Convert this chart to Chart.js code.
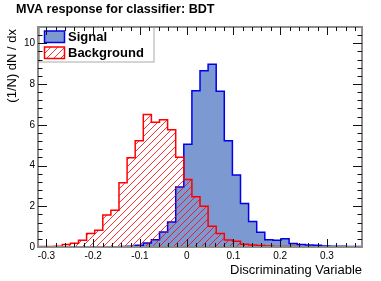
<!DOCTYPE html>
<html>
<head>
<meta charset="utf-8">
<script src="https://cdn.jsdelivr.net/npm/chart.js@4.4.0/dist/chart.umd.min.js"></script>
<style>
  html, body { margin: 0; padding: 0; background: #fff; }
</style>
</head>
<body>
<canvas id="mva" width="381" height="281"></canvas>
<script>
// histogram binning (TMVA response, 40 bins)
const xMin = -0.318;
const xMax = 0.375;
const nBins = 40;
const yMax = 10.8;

// normalised bin contents
const signal = [
  0, 0, 0, 0, 0, 0, 0, 0, 0, 0.01,
  0.02, 0.04, 0.08, 0.20, 0.36, 0.74, 1.23, 2.95, 5.05, 7.67,
  8.65, 8.97, 7.65, 5.21, 3.54, 2.14, 1.25, 0.72, 0.36, 0.33,
  0.41, 0.17, 0.12, 0.10, 0.08, 0.05, 0.04, 0.04, 0.03, 0.02
];
const background = [
  0.03, 0.03, 0.04, 0.12, 0.18, 0.33, 0.66, 0.82, 1.57, 1.80,
  3.15, 4.38, 5.21, 6.50, 6.12, 6.25, 5.75, 4.40, 3.31, 2.47,
  2.00, 1.02, 0.66, 0.34, 0.28, 0.14, 0.10, 0.07, 0.05, 0.03,
  0.02, 0.02, 0.01, 0.01, 0.01, 0.01, 0.01, 0.01, 0.01, 0.01
];

const xTicks = [-0.3, -0.2, -0.1, 0, 0.1, 0.2, 0.3];
const yTicks = [0, 2, 4, 6, 8, 10];
const legendLabels = ["Signal", "Background"];

const FONT = '"Liberation Sans", Arial, Helvetica, sans-serif';
const sigFill = "rgb(125, 153, 209)";
const sigLine = "rgb(0, 0, 238)";
const bkgLine = "rgb(255, 0, 0)";

// bin edges -> points for a stepped outline
function steps(values) {
  const w = (xMax - xMin) / nBins;
  const pts = values.map((v, i) => ({ x: xMin + i * w, y: v }));
  pts.push({ x: xMax, y: values[values.length - 1] });
  return pts;
}

function hatch(ctx) {
  const s = 7;
  const c = document.createElement("canvas");
  c.width = s;
  c.height = s;
  const g = c.getContext("2d");
  g.strokeStyle = "rgba(255, 0, 0, 0.8)";
  g.lineWidth = 1;
  g.beginPath();
  g.moveTo(0, s); g.lineTo(s, 0);
  g.moveTo(-1, 1); g.lineTo(1, -1);
  g.moveTo(s - 1, s + 1); g.lineTo(s + 1, s - 1);
  g.stroke();
  return ctx.createPattern(c, "repeat");
}

const canvas = document.getElementById("mva");
const hatchFill = hatch(canvas.getContext("2d"));

// ROOT-ish frame: legend, inward ticks on all sides, titles
const rootFrame = {
  id: "rootFrame",
  afterDraw(chart) {
    const ctx = chart.ctx;
    const a = chart.chartArea;
    const xs = chart.scales.x, ys = chart.scales.y;
    ctx.save();

    // legend
    ctx.fillStyle = "#fff";
    ctx.fillRect(39.5, 27.5, 114.5, 34.5);
    ctx.strokeStyle = "#aaa";
    ctx.lineWidth = 1;
    ctx.strokeRect(39.5, 27.5, 114.5, 34.5);
    ctx.fillStyle = sigFill;
    ctx.fillRect(44.5, 31, 20, 11.5);
    ctx.strokeStyle = sigLine;
    ctx.lineWidth = 1.5;
    ctx.strokeRect(44.5, 31, 20, 11.5);
    ctx.fillStyle = hatchFill;
    ctx.fillRect(44.5, 47, 20, 11.5);
    ctx.strokeStyle = bkgLine;
    ctx.strokeRect(44.5, 47, 20, 11.5);
    ctx.fillStyle = "#000";
    ctx.font = "bold 13px " + FONT;
    ctx.textAlign = "left";
    ctx.textBaseline = "middle";
    ctx.fillText(legendLabels[0], 68, 37);
    ctx.fillText(legendLabels[1], 68, 53);

    // frame
    ctx.strokeStyle = "#8c8c8c";
    ctx.lineWidth = 2;
    ctx.strokeRect(a.left, a.top, a.right - a.left, a.bottom - a.top);

    // ticks
    ctx.strokeStyle = "#111";
    ctx.lineWidth = 1;
    ctx.beginPath();
    for (let i = -20; i <= 20; i++) {
      const v = i * 0.02;
      if (v < xMin || v > xMax) continue;
      const px = Math.round(xs.getPixelForValue(v)) + 0.5;
      const len = i % 5 === 0 ? 8 : 4;
      ctx.moveTo(px, a.bottom); ctx.lineTo(px, a.bottom - len);
      ctx.moveTo(px, a.top); ctx.lineTo(px, a.top + len);
    }
    for (let i = 1; i < 27; i++) {
      const v = i * 0.4;
      const py = Math.round(ys.getPixelForValue(v)) + 0.5;
      const len = i % 5 === 0 ? 9 : 4.5;
      ctx.moveTo(a.left, py); ctx.lineTo(a.left + len, py);
      ctx.moveTo(a.right, py); ctx.lineTo(a.right - len, py);
    }
    ctx.stroke();

    // titles
    ctx.fillStyle = "#000";
    ctx.font = "bold 12.6px " + FONT;
    ctx.textAlign = "left";
    ctx.fillText("MVA response for classifier: BDT", 16, 10);

    ctx.font = "13px " + FONT;
    ctx.textAlign = "right";
    ctx.textBaseline = "alphabetic";
    ctx.fillText("Discriminating Variable", a.right, 274);

    ctx.translate(16, a.top + 2);
    ctx.rotate(-Math.PI / 2);
    ctx.textAlign = "right";
    ctx.fillText("(1/N) dN / dx", 0, 0);
    ctx.restore();
  }
};

new Chart(canvas, {
  type: "line",
  data: {
    datasets: [
      {
        label: legendLabels[0],
        data: steps(signal),
        stepped: true,
        borderColor: sigLine,
        borderWidth: 1.5,
        backgroundColor: sigFill,
        fill: "origin",
        pointRadius: 0,
        order: 2
      },
      {
        label: legendLabels[1],
        data: steps(background),
        stepped: true,
        borderColor: bkgLine,
        borderWidth: 1.5,
        backgroundColor: hatchFill,
        fill: "origin",
        pointRadius: 0,
        order: 1
      }
    ]
  },
  options: {
    responsive: false,
    animation: false,
    devicePixelRatio: 1,
    layout: { padding: { top: 27, right: 19, left: 0, bottom: 0 } },
    plugins: {
      legend: { display: false },
      tooltip: { enabled: false },
      title: { display: false }
    },
    scales: {
      x: {
        type: "linear",
        min: xMin,
        max: xMax,
        afterFit: (s) => { s.height = 34; },
        afterBuildTicks: (s) => { s.ticks = xTicks.map((v) => ({ value: v })); },
        grid: { display: false, drawTicks: false },
        border: { display: false },
        ticks: {
          color: "#000",
          font: { family: FONT, size: 10 },
          padding: 3,
          maxRotation: 0,
          autoSkip: false
        }
      },
      y: {
        type: "linear",
        min: 0,
        max: yMax,
        afterFit: (s) => { s.width = 38; },
        afterBuildTicks: (s) => { s.ticks = yTicks.map((v) => ({ value: v })); },
        grid: { display: false, drawTicks: false },
        border: { display: false },
        ticks: {
          color: "#000",
          font: { family: FONT, size: 10 },
          padding: 3
        }
      }
    }
  },
  plugins: [rootFrame]
});
</script>
</body>
</html>
